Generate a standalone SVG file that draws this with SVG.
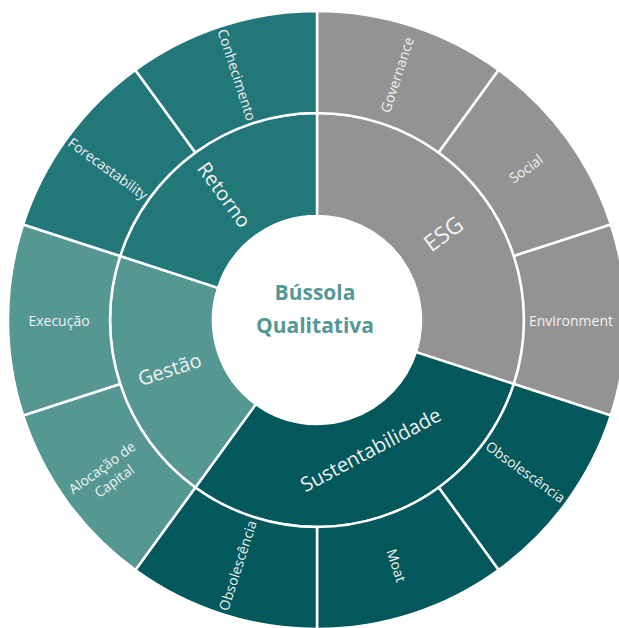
<svg xmlns="http://www.w3.org/2000/svg" width="619" height="628" viewBox="0 0 619 628">
  <style>
    .seg { stroke: #ffffff; stroke-width: 2.5; stroke-linejoin: miter; }
    .esg { fill: #939393; }
    .ret { fill: #227779; }
    .ges { fill: #559893; }
    .sus { fill: #03585C; }
    .lbl { font-family: "Open Sans", "Liberation Sans", sans-serif; fill: #F2F2F2; text-anchor: middle; dominant-baseline: central; }
    .leaf { font-size: 14px; }
    .ring { font-size: 20px; }
    .hub { font-family: "Open Sans", "Liberation Sans", sans-serif; font-weight: bold; font-size: 21px; fill: #559893; text-anchor: middle; }
  </style>

  <!-- hub -->
  <g id="center">
    <circle cx="317" cy="320" r="104" fill="#ffffff"/>
    <text class="hub" x="315" y="300">Bússola</text>
    <text class="hub" x="315" y="332.5">Qualitativa</text>
  </g>

  <!-- inner ring: categories (r 104..207) -->
  <g id="esg">
    <path class="seg esg" d="M317,113 A207,207 0 0 1 513.87,383.97 L415.91,352.14 A104,104 0 0 0 317,216 Z"/>
    <text class="lbl" style="font-size:23px" transform="translate(443,233) rotate(-36)">ESG</text>
  </g>
  <g id="sustentabilidade">
    <path class="seg sus" d="M513.87,383.97 A207,207 0 0 1 195.33,487.47 L255.87,404.14 A104,104 0 0 0 415.91,352.14 Z"/>
    <text class="lbl ring" style="dominant-baseline:auto" transform="translate(374,456) rotate(-28)">Sustentabilidade</text>
  </g>
  <g id="gestao">
    <path class="seg ges" d="M195.33,487.47 A207,207 0 0 1 120.13,256.03 L218.09,287.86 A104,104 0 0 0 255.87,404.14 Z"/>
    <text class="lbl ring" transform="translate(169.5,369) rotate(-18)">Gestão</text>
  </g>
  <g id="retorno">
    <path class="seg ret" d="M120.13,256.03 A207,207 0 0 1 317,113 L317,216 A104,104 0 0 0 218.09,287.86 Z"/>
    <text class="lbl ring" transform="translate(224.5,194.5) rotate(54)">Retorno</text>
  </g>

  <!-- outer ring: leaves (r 207..309), 36 degrees each -->
  <g id="governance">
    <path class="seg esg" d="M317,11 A309,309 0 0 1 498.63,70.01 L438.67,152.53 A207,207 0 0 0 317,113 Z"/>
    <text class="lbl leaf" transform="translate(396.73,74.63) rotate(-72)">Governance</text>
  </g>
  <g id="social">
    <path class="seg esg" d="M498.63,70.01 A309,309 0 0 1 610.88,224.51 L513.87,256.03 A207,207 0 0 0 438.67,152.53 Z"/>
    <text class="lbl leaf" transform="translate(525.73,168.35) rotate(-36)">Social</text>
  </g>
  <g id="environment">
    <path class="seg esg" d="M610.88,224.51 A309,309 0 0 1 610.88,415.49 L513.87,383.97 A207,207 0 0 0 513.87,256.03 Z"/>
    <text class="lbl leaf" style="text-anchor:start" transform="translate(529,320)">Environment</text>
  </g>
  <g id="obsolescencia-1">
    <path class="seg sus" d="M610.88,415.49 A309,309 0 0 1 498.63,569.99 L438.67,487.47 A207,207 0 0 0 513.87,383.97 Z"/>
    <text class="lbl leaf" transform="translate(525.73,471.65) rotate(36)">Obsolescência</text>
  </g>
  <g id="moat">
    <path class="seg sus" d="M498.63,569.99 A309,309 0 0 1 317,629 L317,527 A207,207 0 0 0 438.67,487.47 Z"/>
    <text class="lbl leaf" transform="translate(396.73,565.37) rotate(72)">Moat</text>
  </g>
  <g id="obsolescencia-2">
    <path class="seg sus" d="M317,629 A309,309 0 0 1 135.37,569.99 L195.33,487.47 A207,207 0 0 0 317,527 Z"/>
    <text class="lbl leaf" transform="translate(237.27,565.37) rotate(-72)">Obsolescência</text>
  </g>
  <g id="alocacao-de-capital">
    <path class="seg ges" d="M135.37,569.99 A309,309 0 0 1 23.12,415.49 L120.13,383.97 A207,207 0 0 0 195.33,487.47 Z"/>
    <text class="lbl leaf" transform="translate(108.27,473) rotate(-36)">
      <tspan x="0" y="-9">Alocação de</tspan>
      <tspan x="0" y="9">Capital</tspan>
    </text>
  </g>
  <g id="execucao">
    <path class="seg ges" d="M23.12,415.49 A309,309 0 0 1 23.12,224.51 L120.13,256.03 A207,207 0 0 0 120.13,383.97 Z"/>
    <text class="lbl leaf" transform="translate(59,320)">Execução</text>
  </g>
  <g id="forecastability">
    <path class="seg ret" d="M23.12,224.51 A309,309 0 0 1 135.37,70.01 L195.33,152.53 A207,207 0 0 0 120.13,256.03 Z"/>
    <text class="lbl leaf" transform="translate(108.27,168.35) rotate(36)">Forecastability</text>
  </g>
  <g id="conhecimento">
    <path class="seg ret" d="M135.37,70.01 A309,309 0 0 1 317,11 L317,113 A207,207 0 0 0 195.33,152.53 Z"/>
    <text class="lbl leaf" transform="translate(237.27,74.63) rotate(72)">Conhecimento</text>
  </g>

  <!-- no separate connectors: segment borders act as dividers -->
  <g id="connectors"/>
</svg>
